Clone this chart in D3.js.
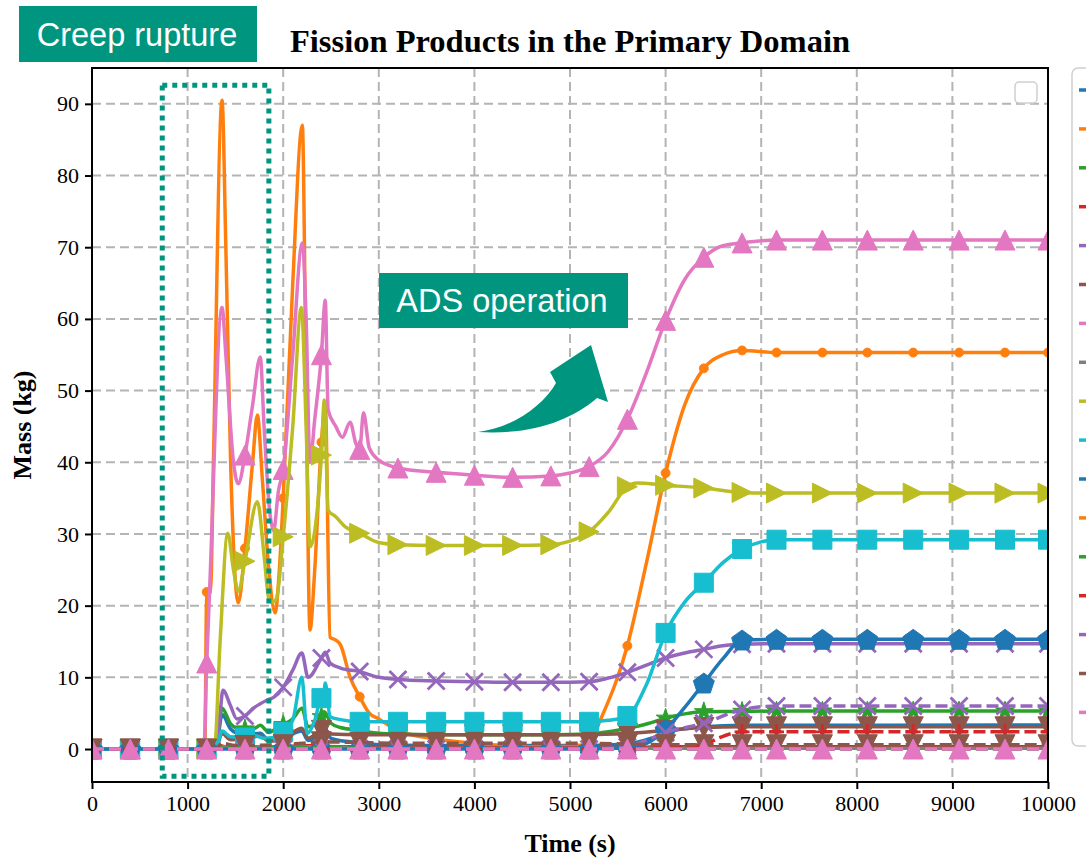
<!DOCTYPE html>
<html>
<head>
<meta charset="utf-8">
<script src="https://cdn.jsdelivr.net/npm/d3@7"></script>
<style>
  html, body { margin: 0; padding: 0; background: #fff; }
  svg { display: block; }
</style>
</head>
<body>
<svg id="chart" width="1086" height="858"></svg>
<script>
// ---- data --------------------------------------------------------------
// times (s) at which the markers of each curve are drawn
const markTimes = [0, 400, 800, 1200, 1600, 2000, 2400, 2800, 3200, 3600, 4000, 4400,
  4800, 5200, 5600, 6000, 6400, 6800, 7160, 7640, 8110, 8590, 9070, 9550, 10000];

const xTicks = [0, 1000, 2000, 3000, 4000, 5000, 6000, 7000, 8000, 9000, 10000];
const yTicks = [0, 10, 20, 30, 40, 50, 60, 70, 80, 90];

const palette = ["#1f77b4", "#ff7f0e", "#2ca02c", "#d62728", "#9467bd",
  "#8c564b", "#e377c2", "#7f7f7f", "#bcbd22", "#17becf"];

// mass (kg) versus time (s), one array per fission product group
const s00 = [[0,0],[1200,0],[1300,0.3],[1360,4.8],[1450,2.8],[1515,2.2],[1600,2.0],[1760,2.2],[1850,1.2],[2000,1.5],[2195,2.5],[2260,1.2],[2400,2.3],[2440,2.8],[2500,1.5],[2700,1.0],[3000,0.6],[3500,0.5],[5200,0.5],[5600,0.7],[5900,1.7],[6100,2.6],[6400,3.1],[6800,3.3],[10000,3.35]];
const s01 = [[0,0],[400,0],[800,0],[1180,0],[1200,21.9],[1240,22],[1270,40],[1360,90.5],[1400,70],[1450,40],[1530,20.4],[1600,28],[1680,40],[1730,46.6],[1780,38],[1850,25],[1915,19],[1960,25],[2000,35],[2100,65],[2200,87],[2240,50],[2280,16.6],[2330,25],[2400,42.8],[2440,48],[2490,15.6],[2550,15.2],[2600,14.5],[2700,10],[2800,7.3],[2900,5],[3000,4.2],[3200,2.6],[3600,1.4],[4000,0.8],[4400,0.4],[4800,0.3],[5200,0.6],[5300,3.5],[5600,14.4],[5800,26],[6000,38.5],[6200,48],[6400,53.1],[6600,55],[6800,55.6],[7160,55.3],[7640,55.3],[8110,55.3],[8590,55.3],[9070,55.3],[9550,55.3],[10000,55.3]];
const s02 = [[0,0],[400,0],[800,0],[1200,0],[1300,0.3],[1360,5.7],[1450,3.5],[1515,2.9],[1600,2.8],[1700,2.9],[1760,3.3],[1850,2.3],[1920,2.8],[2000,3.4],[2100,4.2],[2195,5.7],[2260,3.1],[2400,4.5],[2430,5.2],[2500,3.6],[2600,3.0],[2800,2.6],[3000,2.2],[3200,2.1],[3600,2.0],[4000,2.0],[4400,2.0],[4800,2.0],[5200,2.1],[5400,2.4],[5600,2.9],[5800,3.5],[6000,4.3],[6200,4.9],[6400,5.2],[6800,5.25],[7160,5.3],[7640,5.3],[8110,5.3],[8590,5.3],[9070,5.3],[9550,5.3],[10000,5.3]];
const s03 = [[0,0],[400,0],[800,0],[1200,0],[1330,0.5],[1400,0.3],[1600,0.3],[2000,0.3],[2200,0.5],[2400,0.4],[2800,0.3],[3200,0.2],[3600,0.2],[4000,0.2],[4400,0.2],[4800,0.2],[5200,0.2],[5600,0.2],[6000,0.3],[6400,0.3],[6800,0.3],[7160,0.3],[7640,0.3],[8110,0.3],[8590,0.3],[9070,0.3],[9550,0.3],[10000,0.3]];
const s04 = [[0,0],[400,0],[800,0],[1200,0],[1300,0.3],[1340,5],[1370,8.2],[1450,6],[1515,4.2],[1600,4.6],[1700,5.8],[1830,6.8],[1900,7.2],[2000,8.6],[2100,11],[2195,13.4],[2260,10],[2400,12.7],[2440,13.5],[2490,12],[2600,11.3],[2800,10.8],[3000,10],[3200,9.7],[3600,9.5],[4000,9.4],[4400,9.3],[4800,9.3],[5200,9.4],[5400,9.9],[5600,10.7],[5800,11.7],[6000,12.7],[6200,13.4],[6400,13.9],[6600,14.4],[6800,14.6],[7160,14.7],[7640,14.7],[8110,14.7],[8590,14.7],[9070,14.7],[9550,14.7],[10000,14.7]];
const s05 = [[0,0],[400,0],[800,0],[1200,0],[1300,0.2],[1360,2.2],[1450,1.3],[1600,1.4],[1760,1.8],[1850,1.1],[2000,1.4],[2195,2.9],[2260,1.5],[2400,2.6],[2430,2.7],[2500,2.1],[2800,2.0],[3200,2.0],[3600,2.0],[4000,2.0],[4400,2.0],[4800,2.0],[5200,2.0],[5600,2.2],[6000,2.6],[6400,3.0],[6800,3.1],[7160,3.1],[7640,3.1],[8110,3.1],[8590,3.1],[9070,3.1],[9550,3.1],[10000,3.1]];
const s06 = [[0,0],[400,0],[800,0],[1170,0],[1200,12],[1230,22],[1360,61.6],[1400,55],[1480,40],[1530,37],[1600,41],[1680,48],[1760,54.7],[1800,45],[1860,33],[1900,30.5],[1950,36],[2000,39],[2100,55],[2200,70.6],[2240,60],[2280,40],[2330,46],[2400,55],[2440,62.6],[2470,47.3],[2550,45],[2620,43.5],[2700,45.6],[2760,42.6],[2800,41.8],[2840,46.9],[2900,42],[3000,40.3],[3100,39.6],[3200,39.2],[3600,38.6],[4000,38.2],[4400,37.9],[4800,38.1],[5000,38.5],[5200,39.4],[5400,41.5],[5600,46],[5800,52.5],[6000,59.8],[6200,65.5],[6400,68.6],[6600,70.2],[6800,70.6],[7160,71],[7640,71],[8110,71],[8590,71],[9070,71],[9550,71],[10000,71]];
const s07 = [[0,0],[1300,0],[1360,0.3],[2400,0.3],[3000,0.1],[10000,0.1]];
const s08 = [[0,0],[400,0],[800,0],[1200,0],[1280,0],[1340,15],[1420,30.1],[1480,25],[1530,22],[1600,26.2],[1730,34.5],[1800,27],[1850,21],[1890,20.5],[1930,21],[2000,29.6],[2100,45],[2190,61.6],[2240,45],[2280,28.2],[2400,41],[2430,48.7],[2470,33.3],[2550,32.4],[2650,31],[2800,30.1],[3000,28.8],[3200,28.5],[3600,28.4],[4000,28.4],[4400,28.4],[4800,28.5],[5000,29],[5200,30.3],[5400,33],[5600,36.6],[5700,37.1],[6000,36.8],[6400,36.4],[6800,35.8],[7160,35.7],[7640,35.7],[8110,35.7],[8590,35.7],[9070,35.7],[9550,35.7],[10000,35.7]];
const s09 = [[0,0],[400,0],[800,0],[1200,0],[1300,0.2],[1360,2.5],[1450,1.7],[1600,1.6],[1700,1.9],[1800,1.5],[1900,1.6],[2000,2.4],[2100,4],[2195,10],[2250,2.2],[2330,4],[2400,7.1],[2420,7],[2440,9.2],[2490,4.5],[2600,4.1],[2800,3.8],[3200,3.8],[3600,3.8],[4000,3.8],[4400,3.8],[4800,3.8],[5200,3.8],[5400,4.0],[5600,4.6],[5800,9],[6000,16.2],[6200,20.5],[6400,23.2],[6600,26],[6800,27.9],[7000,28.9],[7160,29.2],[7640,29.2],[8110,29.2],[8590,29.2],[9070,29.2],[9550,29.2],[10000,29.2]];
const s10 = [[0,0],[400,0],[800,0],[1200,0],[1600,0],[2000,0],[2400,0],[2800,0],[3200,0],[3600,0],[4000,0],[4400,0],[4800,0],[5200,0],[5600,0.2],[5800,0.8],[6000,2.7],[6200,5.8],[6400,9.2],[6600,12.6],[6800,15.2],[7160,15.3],[7640,15.3],[8110,15.3],[8590,15.3],[9070,15.3],[9550,15.3],[10000,15.3]];
const s11 = [[0,0],[10000,0]];
const s12 = [[0,0],[1300,0],[1360,0.2],[2500,0.2],[3000,0],[10000,0]];
const s13 = [[0,0],[400,0],[800,0],[1200,0],[1600,0],[2000,0],[2400,0],[2800,0],[3200,0],[3600,0],[4000,0],[4400,0],[4800,0],[5200,0],[5600,0],[5800,0.1],[6000,0.2],[6400,0.6],[6550,1.5],[6700,2.2],[6800,2.4],[7160,2.4],[7640,2.4],[8110,2.4],[8590,2.4],[9070,2.4],[9550,2.4],[10000,2.4]];
const s14 = [[0,0],[400,0],[800,0],[1200,0],[1600,0],[2000,0],[2400,0],[2800,0],[3200,0],[3600,0],[4000,0],[4400,0],[4800,0],[5200,0],[5600,0.3],[5800,1.2],[6000,2.3],[6400,3.6],[6800,5.5],[7160,6.0],[7640,6.0],[8110,6.0],[8590,6.0],[9070,6.0],[9550,6.0],[10000,6.0]];
const s15 = [[0,0],[400,0],[800,0],[1200,0],[1300,0.1],[1360,0.8],[1500,0.5],[1600,0.5],[2000,0.6],[2200,0.8],[2400,1.0],[2800,0.9],[3200,0.8],[3600,0.8],[4000,0.8],[4400,0.8],[4800,0.8],[5200,0.8],[5600,0.7],[6000,0.6],[6400,0.6],[6800,0.6],[7160,0.6],[7640,0.6],[8110,0.6],[8590,0.6],[9070,0.6],[9550,0.6],[10000,0.6]];
const s16 = [[0,0],[400,0],[800,0],[1200,0],[1600,0],[2000,0],[2400,0],[2800,0],[3200,0],[3600,0],[4000,0],[4400,0],[4800,0],[5200,0],[5600,0],[6000,0],[6400,0],[6800,0],[7160,0],[7640,0],[8110,0],[8590,0],[9070,0],[9550,0],[10000,0]];

const seriesData = [s00, s01, s02, s03, s04, s05, s06, s07, s08, s09, s10, s11, s12, s13, s14, s15, s16];
const seriesMarker = ["none", "circle", "star", "plus", "x", "tridown", "triup", "none", "triright", "square",
  "pentagon", "none", "none", "plus", "x", "tridown", "triup"];
const seriesDashed = [false, false, false, false, false, false, false, false, false, false,
  false, true, true, true, true, true, true];

// ---- layout ------------------------------------------------------------
const svg = d3.select("#chart");
const plot = { left: 92, right: 1048, top: 68, bottom: 782 };
const x = d3.scaleLinear().domain([0, 10000]).range([plot.left, plot.right]);
const y = d3.scaleLinear().domain([-4.6, 95]).range([plot.bottom, plot.top]);
const teal = "#00957f";
const serif = "'Liberation Serif', 'Times New Roman', serif";
const sans = "'Liberation Sans', Arial, sans-serif";

svg.append("rect").attr("width", 1086).attr("height", 858).attr("fill", "#fff");

// grid
const grid = svg.append("g").attr("stroke", "#b4b4b4").attr("stroke-width", 2).attr("stroke-dasharray", "9,5");
grid.selectAll("line.v").data(xTicks.slice(1, -1)).join("line")
  .attr("x1", d => x(d)).attr("x2", d => x(d)).attr("y1", plot.top).attr("y2", plot.bottom);
grid.selectAll("line.h").data(yTicks).join("line")
  .attr("y1", d => y(d)).attr("y2", d => y(d)).attr("x1", plot.left).attr("x2", plot.right);

// marker shapes
function markerPath(kind, s) {
  const h = s / 2;
  switch (kind) {
    case "triup": return `M0,${-h}L${h},${h}L${-h},${h}Z`;
    case "tridown": return `M0,${h}L${h},${-h}L${-h},${-h}Z`;
    case "triright": return `M${h},0L${-h},${h}L${-h},${-h}Z`;
    case "square": return `M${-h},${-h}H${h}V${h}H${-h}Z`;
    case "circle": return d3.symbol(d3.symbolCircle, Math.PI * 20)();
    case "star": return d3.symbol(d3.symbolStar, 110)();
    case "pentagon": {
      const pts = d3.range(5).map(i => {
        const a = -Math.PI / 2 + i * 2 * Math.PI / 5;
        return [Math.cos(a) * h * 1.1, Math.sin(a) * h * 1.1 + 1];
      });
      return "M" + pts.map(p => p.join(",")).join("L") + "Z";
    }
    case "plus": return `M${-h},0H${h}M0,${-h}V${h}`;
    case "x": return `M${-h},${-h}L${h},${h}M${h},${-h}L${-h},${h}`;
  }
  return "";
}
const markerSize = { triup: 20, tridown: 20, triright: 20, square: 19, circle: 10, star: 14, pentagon: 20, plus: 15, x: 17 };

const line = d3.line().x(d => x(d[0])).y(d => y(d[1])).curve(d3.curveMonotoneX);
const markSet = new Set(markTimes);

const plotG = svg.append("g");
plotG.append("clipPath").attr("id", "clip").append("rect")
  .attr("x", plot.left).attr("y", plot.top).attr("width", plot.right - plot.left).attr("height", plot.bottom - plot.top);
const curves = plotG.append("g").attr("clip-path", "url(#clip)");

seriesData.forEach((data, i) => {
  const color = palette[i % 10];
  const g = curves.append("g");
  g.append("path").datum(data).attr("d", line)
    .attr("fill", "none").attr("stroke", color).attr("stroke-width", 3.5)
    .attr("stroke-linejoin", "round")
    .attr("stroke-dasharray", seriesDashed[i] ? "12,5" : null);
  const kind = seriesMarker[i];
  if (kind === "none") return;
  const pts = data.filter(d => markSet.has(d[0]));
  const stroked = kind === "plus" || kind === "x";
  g.selectAll("path.m").data(pts).join("path")
    .attr("transform", d => `translate(${x(d[0])},${y(d[1])})`)
    .attr("d", markerPath(kind, markerSize[kind]))
    .attr("fill", stroked ? "none" : color)
    .attr("stroke", color)
    .attr("stroke-width", stroked ? 2.8 : 1);
});

// frame and axes
svg.append("rect").attr("x", plot.left).attr("y", plot.top)
  .attr("width", plot.right - plot.left).attr("height", plot.bottom - plot.top)
  .attr("fill", "none").attr("stroke", "#000").attr("stroke-width", 2);

const xAxis = svg.append("g").attr("transform", `translate(0,${plot.bottom})`)
  .call(d3.axisBottom(x).tickValues(xTicks).tickFormat(d3.format("d")).tickSize(7).tickPadding(6));
const yAxis = svg.append("g").attr("transform", `translate(${plot.left},0)`)
  .call(d3.axisLeft(y).tickValues(yTicks).tickSize(7).tickPadding(6));
[xAxis, yAxis].forEach(a => {
  a.select(".domain").remove();
  a.selectAll(".tick line").attr("stroke", "#000").attr("stroke-width", 2);
  a.selectAll(".tick text").attr("fill", "#000").style("font-family", serif).style("font-size", "22px");
});

// titles
svg.append("text").attr("x", 570).attr("y", 52).attr("text-anchor", "middle")
  .style("font-family", serif).style("font-weight", "bold").style("font-size", "32.5px")
  .text("Fission Products in the Primary Domain");
svg.append("text").attr("x", 570).attr("y", 852).attr("text-anchor", "middle")
  .style("font-family", serif).style("font-weight", "bold").style("font-size", "26px")
  .text("Time (s)");
svg.append("text").attr("transform", "translate(31,425) rotate(-90)").attr("text-anchor", "middle")
  .style("font-family", serif).style("font-weight", "bold").style("font-size", "26px")
  .text("Mass (kg)");

// empty legend frame inside the axes
svg.append("rect").attr("x", 1015).attr("y", 82).attr("width", 22).attr("height", 21).attr("rx", 4)
  .attr("fill", "#fff").attr("stroke", "#cfcfcf").attr("stroke-width", 1.5);

// legend outside the axes (handles only; it runs past the right edge)
const legend = svg.append("g");
legend.append("rect").attr("x", 1072).attr("y", 68).attr("width", 40).attr("height", 678).attr("rx", 6)
  .attr("fill", "#fff").attr("stroke", "#cfcfcf").attr("stroke-width", 1.5);
legend.selectAll("line").data(seriesData).join("line")
  .attr("x1", 1079).attr("x2", 1100)
  .attr("y1", (d, i) => 90 + i * 38.9).attr("y2", (d, i) => 90 + i * 38.9)
  .attr("stroke", (d, i) => palette[i % 10]).attr("stroke-width", 3.5);

// creep rupture window
svg.append("rect").attr("x", x(735)).attr("y", y(92.6)).attr("width", x(1850) - x(735)).attr("height", y(-3.8) - y(92.6))
  .attr("fill", "none").attr("stroke", teal).attr("stroke-width", 5).attr("stroke-dasharray", "5,5");

// callout labels
svg.append("rect").attr("x", 19).attr("y", 6).attr("width", 238).attr("height", 56).attr("fill", teal);
svg.append("text").attr("x", 137).attr("y", 46).attr("text-anchor", "middle").attr("fill", "#fff")
  .style("font-family", sans).style("font-size", "32.5px").text("Creep rupture");
svg.append("rect").attr("x", 379).attr("y", 273).attr("width", 249).attr("height", 55).attr("fill", teal);
svg.append("text").attr("x", 502).attr("y", 312).attr("text-anchor", "middle").attr("fill", "#fff")
  .style("font-family", sans).style("font-size", "32.5px").text("ADS operation");

// curved arrow
svg.append("path")
  .attr("d", "M478,432 C512,428 543,406 556,383 L550,372 L591,345 L608,402 L597,398 C570,421 532,435 478,432 Z")
  .attr("fill", teal);
</script>
</body>
</html>
